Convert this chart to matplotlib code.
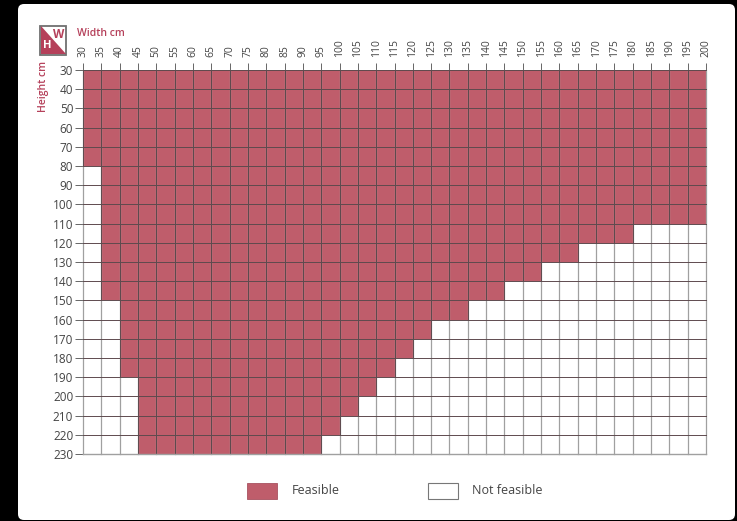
import numpy as np
import matplotlib
matplotlib.use('Agg')
import matplotlib.pyplot as plt
from matplotlib.patches import FancyBboxPatch, Polygon, Rectangle

plt.rcParams['font.family'] = ['Open Sans', 'DejaVu Sans']

# lower edge of the width bands, 5 cm steps
width_cm = [30, 35, 40, 45, 50, 55, 60, 65, 70, 75, 80, 85, 90, 95, 100, 105, 110,
            115, 120, 125, 130, 135, 140, 145, 150, 155, 160, 165, 170, 175, 180,
            185, 190, 195]
# largest feasible height for each width band
max_height_cm = [80, 150, 190, 230, 230, 230, 230, 230, 230, 230, 230, 230, 230,
                 220, 210, 200, 190, 180, 170, 160, 160, 150, 150, 140, 140, 130,
                 130, 120, 120, 120, 110, 110, 110, 110]
width_ticks = list(range(30, 201, 5))
height_ticks = list(range(30, 231, 10))

RED = '#bf5d6b'
DARK_RED = '#b5405a'
LINE = '#5e4a4e'
GREY_LINE = '#a0a0a0'
TEXT = '#444444'

W, H = 737, 521
fig = plt.figure(figsize=(W / 100, H / 100), dpi=100, facecolor='black')

# page layer in pixel coordinates
page = fig.add_axes([0, 0, 1, 1])
page.set_xlim(0, W)
page.set_ylim(H, 0)
page.axis('off')
page.add_patch(FancyBboxPatch((18, 4), 717, 516, boxstyle='round,pad=0,rounding_size=6',
                              fc='white', ec='none'))

ax = fig.add_axes([83 / W, 1 - 454 / H, (706 - 83) / W, (454 - 70) / H])
ax.patch.set_alpha(0)
ax.bar(width_cm, np.array(max_height_cm) - 30, width=5, bottom=30, align='edge',
       color=RED, linewidth=0, zorder=1)
ax.set_xlim(30, 200)
ax.set_ylim(230, 30)

ax.xaxis.tick_top()
ax.set_xticks(width_ticks)
ax.set_xticklabels(width_ticks, rotation=90, fontsize=7.5, color=TEXT)
ax.set_yticks(height_ticks)
ax.set_yticklabels(height_ticks, fontsize=8.5, color=TEXT)
ax.tick_params(axis='x', length=5, width=0.7, color='#666666', pad=4.5)
ax.tick_params(axis='y', length=6, width=0.7, color='#666666', pad=1)
for side in ax.spines.values():
    side.set_visible(False)

# grid: dark inside the red area, lighter verticals over the white area
for x in width_ticks:
    ax.plot([x, x], [30, 230], color=GREY_LINE, lw=0.9, zorder=2, clip_on=False)
for x, top in zip(width_cm, max_height_cm):
    ax.plot([x, x], [30, top], color=LINE, lw=0.7, zorder=3)
    ax.plot([x + 5, x + 5], [30, top], color=LINE, lw=0.7, zorder=3)
for y in height_ticks:
    ax.plot([30, 200], [y, y], color=LINE, lw=0.7, zorder=3, clip_on=False)
ax.plot([30, 200], [230, 230], color=GREY_LINE, lw=1.0, zorder=4, clip_on=False)

# W/H key top left
page.add_patch(Rectangle((40.5, 25.5), 26, 29.5, fc='white', ec='#707070', lw=1.3))
page.add_patch(Polygon([(41.2, 26.2), (41.2, 54.4), (65.8, 54.4)], closed=True, fc=DARK_RED, ec='none'))
page.text(58.5, 34, 'W', color=DARK_RED, fontsize=8.5, fontweight='bold', ha='center', va='center')
page.text(47.5, 46, 'H', color='white', fontsize=8, fontweight='bold', ha='center', va='center')
page.text(77, 34, 'Width cm', color=DARK_RED, fontsize=7.5, fontweight='semibold', ha='left', va='center')
page.text(44, 86, 'Height cm', color=DARK_RED, fontsize=7.5, fontweight='semibold', rotation=90,
          ha='center', va='center')

# legend
page.add_patch(Rectangle((247, 483), 30, 15.5, fc=RED, ec='#a85260', lw=0.6))
page.text(292, 491, 'Feasible', color=TEXT, fontsize=9, ha='left', va='center')
page.add_patch(Rectangle((428, 483), 30, 15.5, fc='white', ec='#777777', lw=0.8))
page.text(472, 490.5, 'Not feasible', color=TEXT, fontsize=9, ha='left', va='center')

fig.savefig('out.png', dpi=100, facecolor=fig.get_facecolor())
